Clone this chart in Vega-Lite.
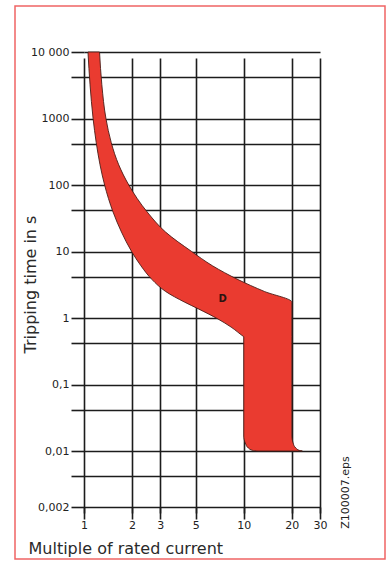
{
  "$schema": "https://vega.github.io/schema/vega-lite/v6.json",
  "width": 370,
  "height": 553,
  "autosize": "none",
  "padding": {"left": 15, "top": 6, "right": 5, "bottom": 2},
  "background": "white",
  "view": {"stroke": "#f06464", "strokeWidth": 1.5, "fill": "white"},
  "config": {
    "axis": {
      "labelFont": "DejaVu Sans",
      "labelFontSize": 11,
      "labelColor": "#222222",
      "titleFont": "DejaVu Sans",
      "titleFontWeight": "normal",
      "titleColor": "#2a2a2a",
      "gridColor": "#1c1c1c",
      "gridWidth": 1.6,
      "gridOpacity": 1,
      "tickColor": "#1c1c1c",
      "tickWidth": 1.6,
      "domain": false,
      "labelOverlap": false,
      "labelFlush": false
    }
  },
  "datasets": {
    "band": [
      {"t": 10000, "lo": 1.059, "hi": 1.251},
      {"t": 3217, "lo": 1.091, "hi": 1.293},
      {"t": 1000, "lo": 1.14, "hi": 1.372},
      {"t": 433, "lo": 1.193, "hi": 1.481},
      {"t": 201, "lo": 1.26, "hi": 1.65},
      {"t": 100, "lo": 1.346, "hi": 1.907},
      {"t": 39.3, "lo": 1.52, "hi": 2.486},
      {"t": 19.6, "lo": 1.716, "hi": 3.241},
      {"t": 10, "lo": 1.986, "hi": 4.717},
      {"t": 6.1, "lo": 2.271, "hi": 6.37},
      {"t": 3.78, "lo": 2.667, "hi": 9.21},
      {"t": 2.51, "lo": 3.241, "hi": 13.45},
      {"t": 1.73, "lo": 4.268, "hi": 20},
      {"t": 1.36, "lo": 5.24, "hi": 20},
      {"t": 0.966, "lo": 6.9, "hi": 20},
      {"t": 0.731, "lo": 8.33, "hi": 20},
      {"t": 0.533, "lo": 9.9, "hi": 20},
      {"t": 0.524, "lo": 10, "hi": 20},
      {"t": 0.0168, "lo": 10, "hi": 20},
      {"t": 0.0132, "lo": 10.22, "hi": 20.35},
      {"t": 0.0111, "lo": 10.68, "hi": 21.18},
      {"t": 0.0102, "lo": 11.4, "hi": 22.34},
      {"t": 0.01, "lo": 12.26, "hi": 23.26}
    ],
    "curveLabel": [
      {"x": 7.38, "t": 1.91, "label": "D"}
    ]
  },
  "layer": [
    {
      "data": {"name": "band"},
      "mark": {
        "type": "area",
        "orient": "horizontal",
        "interpolate": "monotone",
        "color": "#ea3b30",
        "stroke": "#4a1c16",
        "strokeWidth": 0.9
      },
      "encoding": {
        "y": {
          "field": "t",
          "type": "quantitative",
          "scale": {"type": "log", "domain": [0.00144, 10000], "range": [501, 46], "nice": false},
          "axis": {
            "orient": "left",
            "offset": -69,
            "values": [10000, 4200, 1000, 420, 100, 42, 10, 4.2, 1, 0.42, 0.1, 0.042, 0.01, 0.0042, 0.00144],
            "labelExpr": "datum.value == 10000 ? '10 000' : datum.value == 1000 ? '1000' : datum.value == 100 ? '100' : datum.value == 10 ? '10' : datum.value == 1 ? '1' : datum.value == 0.1 ? '0,1' : datum.value == 0.01 ? '0,01' : datum.value < 0.002 ? '0,002' : ''",
            "grid": true,
            "ticks": true,
            "tickSize": 13,
            "labelPadding": 2,
            "title": "Tripping time in s",
            "titleFontSize": 16,
            "titleAngle": 270,
            "titleAlign": "center",
            "titleBaseline": "alphabetic",
            "titleX": -49,
            "titleY": 278
          }
        },
        "x": {
          "field": "lo",
          "type": "quantitative",
          "scale": {"type": "log", "domain": [1, 30], "range": [69, 305], "nice": false},
          "axis": {
            "orient": "bottom",
            "offset": -52,
            "values": [1, 2, 3, 5, 10, 20, 30],
            "format": "d",
            "grid": true,
            "ticks": true,
            "tickSize": 12,
            "labelPadding": 0,
            "title": "Multiple of rated current",
            "titleFontSize": 16,
            "titleAlign": "left",
            "titleAnchor": "start",
            "titleBaseline": "alphabetic",
            "titleX": 13,
            "titleY": 46
          }
        },
        "x2": {"field": "hi"}
      }
    },
    {
      "data": {"name": "curveLabel"},
      "mark": {
        "type": "text",
        "font": "DejaVu Sans",
        "fontWeight": "bold",
        "fontSize": 10,
        "color": "#2a1410"
      },
      "encoding": {
        "x": {
          "field": "x",
          "type": "quantitative",
          "scale": {"type": "log", "domain": [1, 30], "range": [69, 305], "nice": false}
        },
        "y": {
          "field": "t",
          "type": "quantitative",
          "scale": {"type": "log", "domain": [0.00144, 10000], "range": [501, 46], "nice": false},
          "axis": {
            "orient": "right",
            "labels": false,
            "ticks": false,
            "grid": false,
            "domain": false,
            "title": "Z100007.eps",
            "titleFontSize": 11,
            "titleColor": "#222222",
            "titleAngle": 270,
            "titleAlign": "center",
            "titleBaseline": "alphabetic",
            "titleX": -36.5,
            "titleY": 486
          }
        },
        "text": {"field": "label"}
      }
    }
  ],
  "resolve": {"scale": {"y": "independent"}}
}
